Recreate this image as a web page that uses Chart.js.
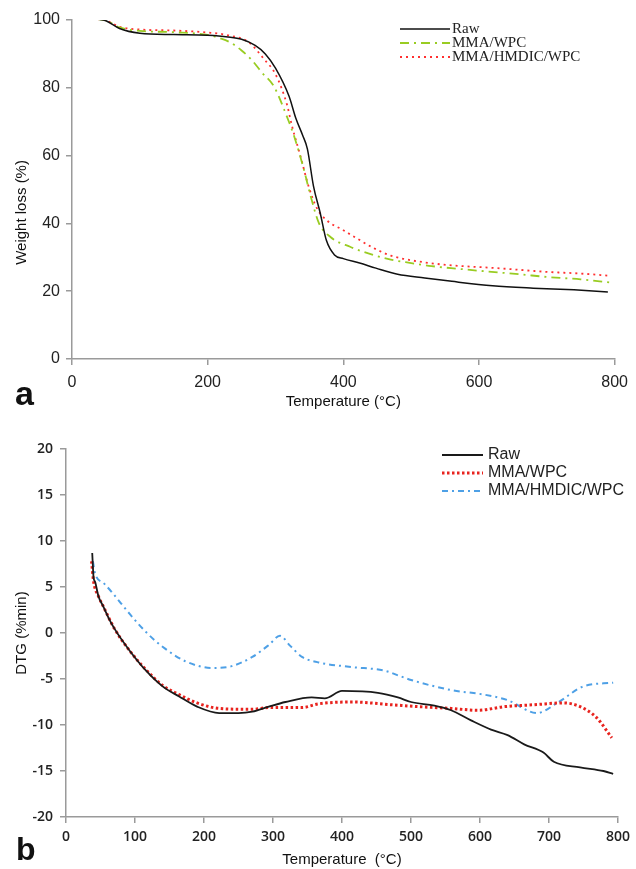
<!DOCTYPE html>
<html>
<head>
<meta charset="utf-8">
<script src="https://cdn.jsdelivr.net/npm/chart.js@4/dist/chart.umd.min.js"></script>
<style>
  body { margin:0; background:#fff; }
  .wrap { position:absolute; left:0; width:636px; }
  #wa { top:0; height:415px; }
  #wb { top:420px; height:449px; }
  .tag { position:absolute; font-family:"Liberation Sans", Arial, sans-serif; font-weight:bold; color:#111; }
</style>
</head>
<body>
<div class="wrap" id="wa"><canvas id="chart-tga"></canvas></div>
<div class="wrap" id="wb"><canvas id="chart-dtg"></canvas></div>
<div class="tag" style="left:15px;top:374px;font-size:34px">a</div>
<div class="tag" style="left:16px;top:831px;font-size:32px">b</div>
<script>
// ── Data: (a) TGA weight loss ────────────────────────────────
const tgaRawT   = [37, 50, 70, 100, 150, 200, 230, 250, 270, 285, 300, 320, 330, 340, 347, 356, 366, 375, 387, 400, 424, 448, 480, 520, 560, 620, 680, 740, 790];
const tgaRaw    = [100.3, 99.8, 97.5, 96.1, 95.7, 95.5, 95.0, 94.3, 92.5, 90.0, 85.8, 77.5, 71, 66, 62, 51, 43, 35, 30.7, 29.6, 28.3, 26.8, 25.0, 23.9, 22.9, 21.6, 20.9, 20.4, 19.8];
const tgaMmaT   = [37, 50, 70, 100, 150, 200, 220, 235, 250, 265, 280, 298, 317, 327, 342, 352, 364, 381, 410, 444, 470, 500, 530, 570, 613, 660, 700, 750, 792];
const tgaMma    = [100.3, 99.9, 97.8, 96.8, 96.4, 95.6, 94.5, 93.2, 91, 88.2, 84.5, 80.3, 71.4, 66, 55.8, 47.9, 40.1, 36, 33.1, 30.7, 29.3, 28.3, 27.4, 26.6, 25.8, 25, 24.2, 23.5, 22.6];
const tgaHmdicT = [37, 50, 70, 100, 150, 200, 230, 260, 283, 300, 317, 324, 337, 349, 361, 375, 400, 419, 445, 470, 490, 520, 555, 627, 700, 750, 790];
const tgaHmdic  = [100.3, 99.9, 98, 97.2, 96.9, 96.3, 95.5, 93.5, 88.5, 84, 75, 69, 59.7, 50.8, 44.5, 41, 38, 35.7, 32.7, 30.5, 29.5, 28.5, 27.7, 26.8, 25.7, 25.2, 24.6];

// ── Data: (b) DTG ────────────────────────────────────────────
const dtgRawT   = [38, 40, 42, 47, 54, 62, 70, 92, 116, 140, 164, 190, 222, 250, 270, 294, 318, 356, 375, 400, 452, 481, 500, 534, 558, 587, 616, 640, 664, 692, 707, 745, 779, 793];
const dtgRaw    = [8.7, 6.0, 5.6, 4.0, 2.9, 1.6, 0.5, -1.9, -4.1, -5.8, -6.9, -8.0, -8.7, -8.7, -8.55, -8.0, -7.5, -7.0, -7.1, -6.3, -6.5, -7.0, -7.5, -7.9, -8.4, -9.5, -10.5, -11.1, -12.1, -13.0, -14.0, -14.6, -15.0, -15.3];
const dtgMmaT   = [37, 40, 47, 54, 70, 92, 116, 140, 164, 190, 222, 270, 294, 342, 366, 414, 472, 510, 558, 597, 636, 678, 721, 745, 769, 791];
const dtgMma    = [7.8, 5.6, 4.0, 2.9, 0.5, -1.9, -4.0, -5.7, -6.7, -7.6, -8.2, -8.3, -8.1, -8.1, -7.7, -7.5, -7.8, -8.0, -8.2, -8.4, -8.0, -7.8, -7.6, -8.0, -9.2, -11.4];
const dtgHmdicT = [39, 42, 55, 68, 92, 116, 140, 174, 212, 240, 270, 294, 310, 325, 342, 366, 414, 462, 481, 500, 558, 606, 640, 683, 712, 750, 793];
const dtgHmdic  = [7.8, 6.5, 5.4, 4.3, 2.1, 0.1, -1.5, -3.1, -3.8, -3.6, -2.6, -1.3, -0.3, -1.4, -2.6, -3.2, -3.7, -4.1, -4.6, -5.1, -6.2, -6.7, -7.3, -8.7, -7.6, -5.8, -5.4];

const pts = (xs, ys) => xs.map((x, i) => ({ x, y: ys[i] }));

// legend drawn as line samples + labels at fixed spots
const lineLegend = {
  id: 'lineLegend',
  afterDraw(chart, args, o) {
    const ctx = chart.ctx;
    ctx.save();
    chart.data.datasets.forEach((ds, i) => {
      const y = o.rows[i];
      ctx.strokeStyle = ds.borderColor; ctx.lineWidth = ds.borderWidth;
      ctx.setLineDash(ds.borderDash || []);
      ctx.beginPath(); ctx.moveTo(o.x1, y); ctx.lineTo(o.x2, y); ctx.stroke();
      ctx.setLineDash([]);
      ctx.fillStyle = o.color; ctx.font = o.font; ctx.textBaseline = 'middle'; ctx.textAlign = 'left';
      ctx.fillText(ds.label, o.textX, y);
    });
    ctx.restore();
  }
};

function axis(min, max, step, font, tickPad, width, height, title, titlePad) {
  return {
    type: 'linear', min, max,
    ticks: { stepSize: step, color: '#222', font, padding: tickPad },
    grid: { drawOnChartArea: false, color: '#9a9a9a', tickLength: 6, lineWidth: 1.5 },
    border: { color: '#9a9a9a', width: 1.5 },
    title: { display: true, text: title, color: '#111', font: { family: '"Liberation Sans", Arial, sans-serif', size: 15 }, padding: titlePad },
    afterFit: s => { if (width) s.width = width; if (height) s.height = height; },
  };
}

const line = (label, data, color, width, dash) => ({
  label, data, borderColor: color, borderWidth: width, borderDash: dash,
  pointRadius: 0, fill: false, cubicInterpolationMode: 'monotone',
});

// ── (a) ──────────────────────────────────────────────────────
const fA = { family: '"Liberation Sans", Arial, sans-serif', size: 16 };
new Chart(document.getElementById('chart-tga'), {
  type: 'line',
  data: { datasets: [
    line('Raw',            pts(tgaRawT, tgaRaw),     '#111111', 1.5, []),
    line('MMA/WPC',        pts(tgaMmaT, tgaMma),     '#99cc22', 1.8, [9, 5, 2, 5]),
    line('MMA/HMDIC/WPC',  pts(tgaHmdicT, tgaHmdic), '#ff3030', 1.8, [2, 4]),
  ]},
  options: {
    responsive: true, maintainAspectRatio: false, animation: false,
    layout: { padding: { left: 0, right: 14, top: 20, bottom: 0 } },
    plugins: { legend: { display: false }, tooltip: { enabled: false },
      lineLegend: { x1: 400, x2: 450, textX: 452, rows: [29, 43, 57], color: '#222', font: '15px "Liberation Serif", "Times New Roman", serif' } },
    scales: {
      x: axis(0, 800, 200, fA, 8, 0, 56, 'Temperature (°C)', { top: 0, bottom: 4 }),
      y: axis(0, 100, 20, fA, 6, 72, 0, 'Weight loss (%)' + ' '.repeat(11), { top: 13, bottom: 0 }),
    },
  },
  plugins: [lineLegend],
});

// ── (b) ──────────────────────────────────────────────────────
const fB = { family: '"Open Sans", "Liberation Sans", sans-serif', size: 14, weight: '600' };
new Chart(document.getElementById('chart-dtg'), {
  type: 'line',
  data: { datasets: [
    line('Raw',            pts(dtgRawT, dtgRaw),     '#1a1a1a', 1.8, []),
    line('MMA/WPC',        pts(dtgMmaT, dtgMma),     '#e8231e', 3, [2.5, 2.5]),
    line('MMA/HMDIC/WPC',  pts(dtgHmdicT, dtgHmdic), '#4ea0e6', 2, [6, 4, 2, 4]),
  ]},
  options: {
    responsive: true, maintainAspectRatio: false, animation: false,
    layout: { padding: { left: 0, right: 15, top: 29, bottom: 0 } },
    plugins: { legend: { display: false }, tooltip: { enabled: false },
      lineLegend: { x1: 442, x2: 483, textX: 488, rows: [35, 53, 71], color: '#222', font: '16px "Liberation Sans", Arial, sans-serif' } },
    scales: {
      x: axis(0, 800, 100, fB, 6, 0, 52, 'Temperature  (°C)', { top: 0, bottom: 0 }),
      y: axis(-20, 20, 5, fB, 7, 66, 0, 'DTG (%min)', { top: 13, bottom: 0 }),
    },
  },
  plugins: [lineLegend],
});
</script>
</body>
</html>
